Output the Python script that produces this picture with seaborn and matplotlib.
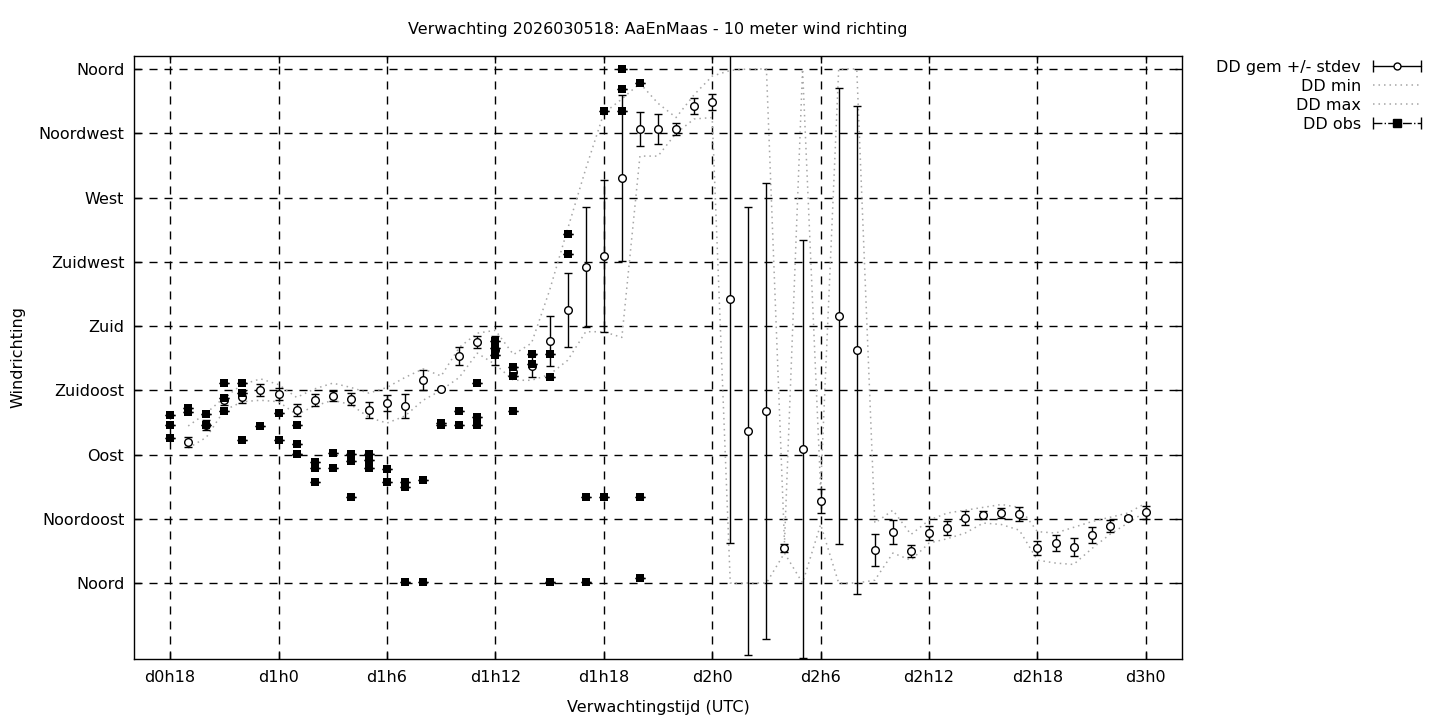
import matplotlib
matplotlib.use("Agg")
import matplotlib.pyplot as plt
import pandas as pd
import seaborn as sns
from matplotlib.legend_handler import HandlerLine2D, HandlerTuple
from matplotlib.lines import Line2D

sns.set_theme(style="white")
plt.rcParams['font.family'] = ['DejaVu Sans']
plt.rcParams['font.size'] = 11.5
plt.rcParams['text.color'] = 'black'

# forecast hours since d0h0
fc_hours = [19, 20, 21, 22, 23, 24, 25, 26, 27, 28, 29, 30, 31, 32, 33, 34, 35, 36,
            37, 38, 39, 40, 41, 42, 43, 44, 45, 46, 47, 48, 49, 50, 51, 52, 53, 54,
            55, 56, 57, 58, 59, 60, 61, 62, 63, 64, 65, 66, 67, 68, 69, 70, 71, 72]
dd_mean = [98.8, 110.7, 128.2, 130.3, 135.2, 132.4, 121.2, 128.2, 131.0, 128.9, 121.2, 126.1,
           124.0, 142.2, 135.9, 159.0, 168.8, 163.0, 148.0, 152.0, 169.5, 191.2, 221.3, 229.0,
           283.7, 318.0, 318.0, 318.0, 334.1, 336.9, 198.9, 106.5, 120.5, 24.5, 93.9, 57.4,
           187.0, 163.2, 23.1, 35.7, 22.4, 35.0, 38.5, 45.5, 47.6, 49.0, 48.3, 24.5,
           28.0, 25.2, 33.6, 39.9, 45.5, 49.7]
dd_std = [3.5, 3.5, 3.5, 3.9, 3.9, 4.2, 3.9, 3.9, 3.2, 3.9, 5.3, 5.3,
          8.1, 6.7, 0.7, 6.3, 3.9, 10.0, 3.0, 7.7, 17.5, 26.0, 41.7, 53.2,
          58.1, 11.9, 10.5, 4.2, 5.3, 5.6, 170.9, 156.9, 159.7, 2.8, 146.4, 8.4,
          159.7, 170.9, 10.9, 8.4, 4.2, 4.6, 4.9, 4.9, 2.8, 3.5, 4.9, 4.6,
          5.3, 6.0, 5.6, 3.9, 1.4, 4.6]
dd_min = [94.5, 102, 121, 127, 128, 127, 118, 124, 128, 125, 116, 112,
          117, 128, 135, 144, 161, 153, 142, 142, 146, 156, 176, 176,
          172, 299, 299, 315, 325, 326, 0, 0, 0, 21, 0, 41,
          0, 0, 2, 21, 16, 28, 31, 35, 42, 41, 37, 16,
          14, 13, 24, 34, 42, 50]
dd_max = [110, 119, 130, 139, 143, 139, 130, 136, 140, 137, 133, 137,
          144, 150, 145, 165, 175, 177, 160, 168, 205, 248, 290, 329,
          339, 350, 336, 326, 342, 355, 359, 360, 360, 28, 360, 66,
          360, 360, 42, 51, 34, 44, 49, 51, 53, 55, 53, 36,
          35, 39, 43, 46, 49, 56]

# observations (several per hour)
obs_hours = [18, 18, 18, 19, 19, 20, 20, 21, 21, 21, 22, 22, 22, 23, 24, 24,
             25, 25, 25, 26, 26, 26, 27, 27, 28, 28, 28, 29, 29, 29, 30, 30,
             31, 31, 31, 32, 32, 33, 33, 34, 34, 35, 35, 35, 36, 36, 36,
             37, 37, 37, 38, 38, 39, 39, 39, 40, 40, 41, 41, 42, 42,
             43, 43, 43, 44, 44, 44]
obs_dd = [117.7, 110.7, 101.6, 122.6, 119.8, 118.4, 110.7, 140.1, 129.6, 120.5,
          140.1, 133.1, 100.2, 110.0, 119.1, 100.2,
          110.7, 97.4, 90.4, 84.7, 80.5, 70.7, 91.1, 80.5, 90.4, 85.4, 60.2,
          90.4, 86.1, 80.5, 79.8, 70.7,
          70.7, 67.2, 0.7, 72.1, 0.7, 112.1, 110.7, 120.5, 110.7, 140.1, 116.3, 110.7,
          169.5, 164.6, 159.7,
          151.3, 145.0, 120.5, 160.4, 153.4, 160.4, 144.3, 0.7, 244.4, 230.4,
          60.2, 0.7, 330.6, 60.2,
          360.0, 346.0, 330.6, 350.2, 60.2, 3.5]

x_ticks = [18, 24, 30, 36, 42, 48, 54, 60, 66, 72]
x_labels = ['d0h18', 'd1h0', 'd1h6', 'd1h12', 'd1h18', 'd2h0', 'd2h6', 'd2h12', 'd2h18', 'd3h0']
y_ticks = [0, 45, 90, 135, 180, 225, 270, 315, 360]
y_labels = ['Noord', 'Noordoost', 'Oost', 'Zuidoost', 'Zuid', 'Zuidwest', 'West', 'Noordwest', 'Noord']

fc = pd.DataFrame({'uur': fc_hours, 'gem': dd_mean, 'std': dd_std, 'min': dd_min, 'max': dd_max})
obs = pd.DataFrame({'uur': obs_hours, 'dd': obs_dd})

GREY = '#a6a6a6'
DOTS = (0, (1, 2.6))

fig = plt.figure(figsize=(14.4, 7.2), dpi=100)
ax = fig.add_axes([134 / 1440, 1 - 659 / 720, (1182 - 134) / 1440, (659 - 56) / 720])

sns.lineplot(data=fc, x='uur', y='min', ax=ax, color=GREY, linewidth=1.1, linestyle=DOTS,
             legend=False, zorder=2)
sns.lineplot(data=fc, x='uur', y='max', ax=ax, color=GREY, linewidth=1.1, linestyle=DOTS,
             legend=False, zorder=2)

ax.errorbar(fc['uur'], fc['gem'], yerr=fc['std'], fmt='o', ms=5.5, mfc='white', mec='black',
            mew=1, ecolor='black', elinewidth=1, capsize=2.7, capthick=1, zorder=3)

ax.errorbar(obs['uur'], obs['dd'], yerr=0, fmt='none', ecolor='black', elinewidth=1,
            capsize=3.6, capthick=1, zorder=4)
sns.scatterplot(data=obs, x='uur', y='dd', ax=ax, marker='s', color='black', s=36,
                linewidth=0, legend=False, zorder=5)

ax.set_xlim(16, 74)
ax.set_ylim(-53.2, 369.1)
ax.set_xticks(x_ticks)
ax.set_xticklabels(x_labels)
ax.set_yticks(y_ticks)
ax.set_yticklabels(y_labels)
ax.grid(True, color='black', linestyle=(0, (5.8, 5)), linewidth=1)
ax.set_axisbelow(True)
for sp in ax.spines.values():
    sp.set_color('black')
    sp.set_linewidth(1)
ax.tick_params(direction='in', length=5, width=1, top=True, right=True, bottom=True, left=True,
               color='black', labelcolor='black', labelsize=11.5)
ax.tick_params(axis='y', pad=7)
ax.tick_params(axis='x', pad=8)

ax.set_title('Verwachting 2026030518: AaEnMaas - 10 meter wind richting', fontsize=11.5,
             color='black', pad=16)
ax.set_xlabel('Verwachtingstijd (UTC)', fontsize=11.5, color='black', labelpad=11)
ax.set_ylabel('Windrichting', fontsize=11.5, color='black', labelpad=9.5)

# legend handles, gnuplot style (handle right of the text)
caps_gem = Line2D([], [], color='black', lw=1, marker='|', ms=8, mew=1)
circ_gem = Line2D([], [], ls='none', marker='o', ms=5, mfc='white', mec='black', mew=1)
h_min = Line2D([], [], color=GREY, lw=1.1, linestyle=DOTS)
h_max = Line2D([], [], color=GREY, lw=1.1, linestyle=DOTS)
caps_obs = Line2D([], [], color='black', lw=1, linestyle='-.', marker='|', ms=8, mew=1)
sq_obs = Line2D([], [], ls='none', marker='s', ms=5.5, mfc='black', mec='black')

fig.legend([(caps_gem, circ_gem), h_min, h_max, (caps_obs, sq_obs)],
           ['DD gem +/- stdev', 'DD min', 'DD max', 'DD obs'],
           loc='upper right', bbox_to_anchor=(1421 / 1440, 1 - 60 / 720),
           frameon=False, markerfirst=False, numpoints=1, fontsize=11.5, labelcolor='black',
           handlelength=3.0, handletextpad=0.75, labelspacing=0.25,
           borderpad=0, borderaxespad=0,
           handler_map={tuple: HandlerTuple(ndivide=1, pad=0),
                        caps_gem: HandlerLine2D(numpoints=2, marker_pad=0),
                        caps_obs: HandlerLine2D(numpoints=2, marker_pad=0)})

fig.savefig('out.png', dpi=100)
